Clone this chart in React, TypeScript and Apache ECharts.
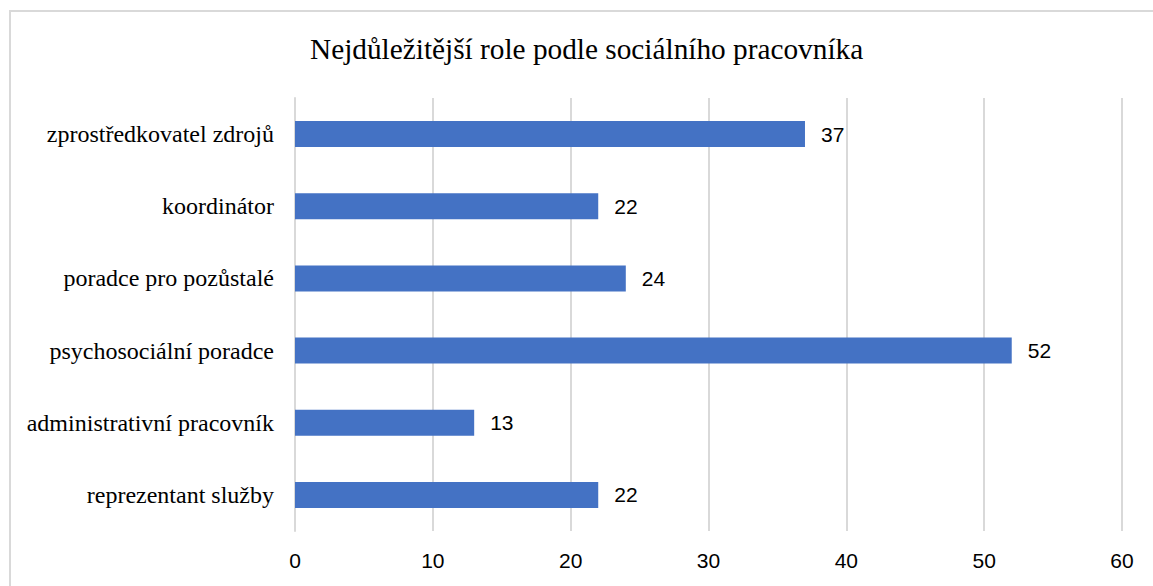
import React, { useEffect, useRef } from "react";
import * as echarts from "echarts";

const categories = [
  "zprostředkovatel zdrojů",
  "koordinátor",
  "poradce pro pozůstalé",
  "psychosociální poradce",
  "administrativní pracovník",
  "reprezentant služby",
];
const values = [37, 22, 24, 52, 13, 22];
const titleText = "Nejdůležitější role podle sociálního pracovníka";

export default function App() {
  const ref = useRef<HTMLDivElement>(null);
  useEffect(() => {
    const chart = echarts.init(ref.current!, null, { renderer: "svg" });
    chart.setOption({
      animation: false,
      backgroundColor: "#ffffff",
      title: {
        text: titleText,
        left: 305,
        top: 29,
        textStyle: {
          fontFamily: "Liberation Serif",
          fontSize: 29.3,
          fontWeight: "normal",
          color: "#000000",
        },
      },
      graphic: [
        {
          type: "rect",
          shape: { x: 10, y: 11, width: 1170, height: 620 },
          style: { fill: "none", stroke: "#d9d9d9", lineWidth: 2 },
          silent: true,
        },
      ],
      grid: { left: 295, right: 31, top: 98, bottom: 55 },
      xAxis: {
        type: "value",
        min: 0,
        max: 60,
        interval: 10,
        axisLine: { show: false },
        axisTick: { show: false },
        splitLine: { show: true, lineStyle: { color: "#d9d9d9", width: 2 } },
        axisLabel: {
          margin: 19,
          fontFamily: "Liberation Sans",
          fontSize: 21,
          color: "#000000",
        },
      },
      yAxis: {
        type: "category",
        data: categories,
        inverse: true,
        axisLine: { show: true, lineStyle: { color: "#d9d9d9", width: 2 } },
        axisTick: { show: false },
        axisLabel: {
          margin: 21,
          fontFamily: "Liberation Serif",
          fontSize: 24,
          color: "#000000",
        },
      },
      series: [
        {
          type: "bar",
          data: values,
          barWidth: "36%",
          itemStyle: { color: "#4472c4" },
          label: {
            show: true,
            position: "right",
            distance: 16,
            fontFamily: "Liberation Sans",
            fontSize: 21,
            color: "#000000",
          },
        },
      ],
    });
    return () => chart.dispose();
  }, []);
  return (
    <div
      ref={ref}
      style={{ position: "fixed", left: 0, top: 0, width: 1153, height: 586 }}
    />
  );
}
